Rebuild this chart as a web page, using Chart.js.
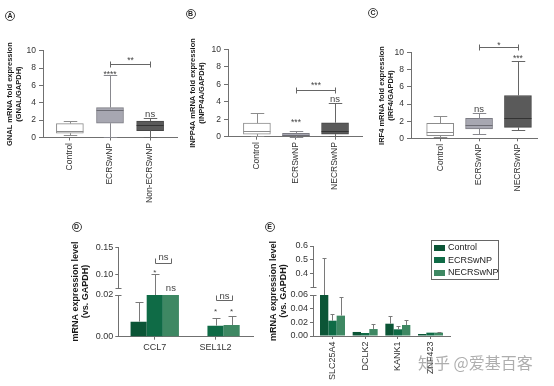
<!DOCTYPE html>
<html>
<head>
<meta charset="utf-8">
<title>mRNA expression</title>
<script src="https://cdn.jsdelivr.net/npm/chart.js@4.4.1/dist/chart.umd.min.js"></script>
<style>
  html, body { margin: 0; padding: 0; background: #fff; }
  body { position: relative; width: 554px; height: 386px; overflow: hidden; font-family: 'Liberation Sans', Arial, sans-serif; }
  canvas { position: absolute; }
  .tag { position: absolute; width: 8px; height: 8px; border: 1px solid #444; border-radius: 50%;
         font: bold 7px/8px 'Liberation Sans', Arial, sans-serif; text-align: center; color: #222; }
  #legendE { position: absolute; left: 431px; top: 240px; width: 66px; height: 37.5px; border: 1px solid #666;
             font-size: 9px; color: #222; }
  #legendE div { height: 12.5px; line-height: 12.5px; white-space: nowrap; padding-left: 2px; }
  #legendE span { display: inline-block; width: 11px; height: 6px; margin-right: 3px; vertical-align: -0.5px; }
  #mark { position: absolute; left: 418px; top: 350px; font: 16px 'Noto Sans CJK SC', sans-serif;
          color: rgba(140, 140, 140, 0.7); white-space: nowrap; }
</style>
</head>
<body>
<canvas id="chartA" width="185" height="215" style="left:0;top:0"></canvas>
<canvas id="chartB" width="190" height="215" style="left:180px;top:0"></canvas>
<canvas id="chartC" width="194" height="215" style="left:360px;top:0"></canvas>
<canvas id="chartD" width="200" height="130" style="left:60px;top:225px"></canvas>
<canvas id="chartE" width="250" height="160" style="left:262px;top:225px"></canvas>

<div class="tag" style="left:5px;top:10.5px">A</div>
<div class="tag" style="left:185.5px;top:8.5px">B</div>
<div class="tag" style="left:368px;top:8px">C</div>
<div class="tag" style="left:71.5px;top:222px">D</div>
<div class="tag" style="left:264.5px;top:222px">E</div>
<div id="legendE"></div>
<div id="mark">知乎 @爱基百客</div>

<script>
Chart.defaults.font.family = "'Liberation Sans', Arial, Helvetica, sans-serif";
Chart.defaults.color = '#333';

const AXIS = '#707070';
const INK = '#333';

// A-C: box plots (min, Q1, median, Q3, max)
const foldTicks = [0, 2, 4, 6, 8, 10];

const gnalGroups = ['Control', 'ECRSwNP', 'Non-ECRSwNP'];
const gnalMin = [0.3, 0.1, 0.1];
const gnalQ1 = [0.5, 1.65, 0.8];
const gnalMedian = [0.8, 3.15, 1.4];
const gnalQ3 = [1.6, 3.45, 1.9];
const gnalMax = [1.9, 7.15, 2.2];

const inppGroups = ['Control', 'ECRSwNP', 'NECRSwNP'];
const inppMin = [0.1, 0.02, 0.08];
const inppQ1 = [0.3, 0.08, 0.3];
const inppMedian = [0.65, 0.19, 0.6];
const inppQ3 = [1.55, 0.38, 1.6];
const inppMax = [2.75, 0.6, 3.9];

const irfGroups = ['Control', 'ECRSwNP', 'NECRSwNP'];
const irfMin = [0.1, 0.5, 0.95];
const irfQ1 = [0.32, 1.1, 1.28];
const irfMedian = [0.7, 1.5, 2.4];
const irfQ3 = [1.75, 2.33, 5.0];
const irfMax = [2.55, 3.0, 9.05];

const boxFill = ['#ffffff', '#a7a7b1', '#5a5a5a'];
const boxEdge = ['#8c8c8c', '#7c7c84', '#464646'];
const boxMedian = ['#8c8c8c', '#6c6c74', '#333333'];
const boxWhisker = ['#8c8c8c', '#88888e', '#666666'];

// D-E: bar charts on broken axes
const seriesNames = ['Control', 'ECRSwNP', 'NECRSwNP'];
const seriesColors = ['#0b5536', '#0f6b46', '#3e8863'];

const dGenes = ['CCL7', 'SEL1L2'];
const dControl = [0.0072, 0];
const dEcr = [0.02, 0.0053];
const dNecr = [0.02, 0.0056];
const dControlErr = [0.0165, null];
const dEcrErr = [0.1, 0.0092];
const dNecrErr = [null, 0.0098];
const dLowTicks = [0, 0.02];
const dHighTicks = [0.1, 0.15];

const eGenes = ['SLC25A4', 'DCLK2', 'KANK1', 'ZNF423'];
const eControl = [0.06, 0.0059, 0.018, 0.0029];
const eEcr = [0.0224, 0.0044, 0.0098, 0.0049];
const eNecr = [0.0298, 0.0102, 0.0161, 0.0049];
const eControlErr = [0.515, null, 0.0298, null];
const eEcrErr = [0.0317, null, 0.0141, null];
const eNecrErr = [0.0566, 0.0176, 0.0239, 0.0063];
const eLowTicks = [0, 0.02, 0.04, 0.06];
const eHighTicks = [0.4, 0.5, 0.6];

function crisp(v) { return Math.round(v) + 0.5; }

function drawText(ctx, text, x, yc, size, color) {
  const star = /^\*+$/.test(text);
  ctx.font = size + "px 'Liberation Sans', Arial, sans-serif";
  ctx.fillStyle = color;
  ctx.textAlign = 'center';
  ctx.textBaseline = 'alphabetic';
  ctx.fillText(text, x, yc + size * (star ? 0.58 : 0.26));
}

function barAt(chart, ds, i) {
  return chart.getDatasetMeta(ds).data[i];
}

// whiskers, caps, medians, error bars, stars and brackets
function marksPlugin(cfg) {
  return {
    id: 'marks',
    afterDatasetsDraw(chart) {
      const ctx = chart.ctx;
      ctx.save();
      ctx.lineWidth = 1;

      if (cfg.box) {
        const y = chart.scales.y;
        const b = cfg.box;
        chart.getDatasetMeta(0).data.forEach((bar, i) => {
          const x = crisp(bar.x);
          const half = bar.width / 2;
          const top = crisp(y.getPixelForValue(b.max[i]));
          const low = crisp(y.getPixelForValue(b.min[i]));
          ctx.strokeStyle = boxWhisker[i];
          ctx.beginPath();
          ctx.moveTo(x, y.getPixelForValue(b.q3[i])); ctx.lineTo(x, top);
          ctx.moveTo(x, y.getPixelForValue(b.q1[i])); ctx.lineTo(x, low);
          ctx.moveTo(x - half / 2, top); ctx.lineTo(x + half / 2, top);
          ctx.moveTo(x - half / 2, low); ctx.lineTo(x + half / 2, low);
          ctx.stroke();
          const med = crisp(y.getPixelForValue(b.median[i]));
          ctx.strokeStyle = boxMedian[i];
          ctx.beginPath();
          ctx.moveTo(bar.x - half, med); ctx.lineTo(bar.x + half, med);
          ctx.stroke();
        });
      }

      if (cfg.errors) {
        const low = chart.scales.yLow, high = chart.scales.yHigh;
        ctx.strokeStyle = '#7a7a7a';
        cfg.errors.forEach((tops, ds) => {
          chart.getDatasetMeta(ds).data.forEach((bar, i) => {
            const v = tops[i];
            if (v === null || v === undefined) return;
            const py = crisp(v > low.max ? high.getPixelForValue(v) : low.getPixelForValue(v));
            const x = crisp(bar.x);
            ctx.beginPath();
            ctx.moveTo(x, bar.y); ctx.lineTo(x, py);
            ctx.moveTo(x - cfg.cap, py); ctx.lineTo(x + cfg.cap, py);
            ctx.stroke();
          });
        });
        // break marks on the value axis
        const ax = crisp(chart.chartArea.left);
        ctx.strokeStyle = AXIS;
        ctx.beginPath();
        [high.bottom, low.top].forEach(py => {
          ctx.moveTo(ax - 3, crisp(py)); ctx.lineTo(ax + 3, crisp(py));
        });
        ctx.stroke();
      }

      (cfg.brackets || []).forEach(b => {
        const s = chart.scales[b.scale];
        const x1 = crisp(barAt(chart, b.a[0], b.a[1]).x);
        const x2 = crisp(barAt(chart, b.b[0], b.b[1]).x);
        const py = crisp(s.getPixelForValue(b.v));
        const up = b.tick === 'up' ? 5 : 3;
        const down = b.tick === 'up' ? 0 : 3;
        ctx.strokeStyle = '#666';
        ctx.beginPath();
        ctx.moveTo(x1, py); ctx.lineTo(x2, py);
        ctx.moveTo(x1, py - up); ctx.lineTo(x1, py + down);
        ctx.moveTo(x2, py - up); ctx.lineTo(x2, py + down);
        ctx.stroke();
        drawText(ctx, b.text, (x1 + x2) / 2, s.getPixelForValue(b.textV), b.size, '#444');
      });

      (cfg.notes || []).forEach(n => {
        const s = chart.scales[n.scale];
        drawText(ctx, n.text, barAt(chart, n.ds, n.i).x, s.getPixelForValue(n.v), n.size, '#444');
      });

      ctx.restore();
    }
  };
}

function boxChart(id, o) {
  return new Chart(document.getElementById(id), {
    type: 'bar',
    data: {
      datasets: [{
        data: o.groups.map((g, i) => ({x: i, y: [o.q1[i], o.q3[i]]})),
        backgroundColor: boxFill,
        borderColor: boxEdge,
        borderWidth: 1,
        borderSkipped: false,
        barThickness: 27
      }]
    },
    options: {
      responsive: false,
      animation: false,
      layout: {padding: o.pad},
      plugins: {legend: {display: false}, tooltip: {enabled: false}},
      scales: {
        x: {
          type: 'linear', min: o.xMin, max: o.xMax, offset: false,
          afterBuildTicks: s => { s.ticks = o.groups.map((g, i) => ({value: i})); },
          afterFit: s => { s.height = o.xHeight; },
          ticks: {callback: v => o.groups[v], minRotation: 90, maxRotation: 90, autoSkip: false,
                  font: {size: 8.5}, padding: 2.5, color: INK},
          grid: {drawOnChartArea: false, tickLength: 3, color: AXIS, offset: false},
          border: {color: AXIS}
        },
        y: {
          min: 0, max: 10,
          afterBuildTicks: s => { s.ticks = foldTicks.map(v => ({value: v})); },
          afterFit: s => { s.width = o.yWidth; },
          ticks: {font: {size: 8.5}, padding: 3, color: INK, autoSkip: false},
          grid: {drawOnChartArea: false, tickLength: 4, color: AXIS},
          border: {color: AXIS},
          title: {display: true, text: o.title, color: '#1a1a1a', padding: 0,
                  font: {size: 7.5, weight: 'bold', lineHeight: 1.2}}
        }
      }
    },
    plugins: [marksPlugin({
      box: {min: o.min, q1: o.q1, median: o.median, q3: o.q3, max: o.max},
      notes: o.notes,
      brackets: o.brackets
    })]
  });
}

function brokenChart(id, o) {
  const datasets = o.series.map((vals, k) => ({
    label: seriesNames[k],
    data: vals.map((v, i) => ({x: i, y: v})),
    backgroundColor: seriesColors[k],
    borderWidth: 0,
    yAxisID: 'yLow',
    barPercentage: 1,
    categoryPercentage: o.groupShare
  }));
  const valueAxis = (extra) => Object.assign({
    type: 'linear', position: 'left', stack: 'v', offset: false,
    afterFit: s => { s.width = o.yWidth; },
    grid: {drawOnChartArea: false, tickLength: 3, color: AXIS},
    border: {color: AXIS}
  }, extra);
  return new Chart(document.getElementById(id), {
    type: 'bar',
    data: {datasets},
    options: {
      responsive: false,
      animation: false,
      layout: {padding: o.pad},
      plugins: {legend: {display: false}, tooltip: {enabled: false}},
      scales: {
        x: {
          type: 'linear', min: o.xMin, max: o.xMax, offset: false,
          afterBuildTicks: s => { s.ticks = o.genes.map((g, i) => ({value: i})); },
          afterFit: s => { s.height = o.xHeight; },
          ticks: {callback: v => o.genes[v], minRotation: o.rotation, maxRotation: o.rotation, autoSkip: false,
                  font: {size: 9}, padding: 2.5, color: INK},
          grid: {drawOnChartArea: false, tickLength: 3, color: AXIS, offset: false},
          border: {color: AXIS}
        },
        yLow: valueAxis({
          min: 0, max: o.lowMax, stackWeight: o.weights[2],
          afterBuildTicks: s => { s.ticks = o.lowTicks.map(v => ({value: v})); },
          ticks: {callback: v => v.toFixed(2), font: {size: 9}, padding: 2, color: INK, autoSkip: false}
        }),
        yGap: valueAxis({
          stackWeight: o.weights[1],
          grid: {display: false}, border: {display: false}, ticks: {display: false},
          title: {display: true, text: ['mRNA expression level', '(vs. GAPDH)'], color: '#1a1a1a', padding: 0,
                  font: {size: 9, weight: 'bold', lineHeight: 1.12}}
        }),
        yHigh: valueAxis({
          min: o.highMin, max: o.highMax, stackWeight: o.weights[0],
          afterBuildTicks: s => { s.ticks = o.highTicks.map(v => ({value: v})); },
          ticks: {callback: v => v.toFixed(o.highDigits), font: {size: 9}, padding: 2, color: INK, autoSkip: false}
        })
      }
    },
    plugins: [marksPlugin({errors: o.errors, cap: o.cap, notes: o.notes, brackets: o.brackets})]
  });
}

boxChart('chartA', {
  groups: gnalGroups, min: gnalMin, q1: gnalQ1, median: gnalMedian, q3: gnalQ3, max: gnalMax,
  title: ['GNAL mRNA fold expression', '(GNAL/GAPDH)'],
  pad: {left: 5.5, top: 50.7, right: 8, bottom: 0}, yWidth: 37.5, xHeight: 77.5, xMin: -0.67, xMax: 2.67,
  notes: [{ds: 0, i: 1, scale: 'y', v: 7.5, text: '****', size: 8.5},
          {ds: 0, i: 2, scale: 'y', v: 2.6, text: 'ns', size: 9.5}],
  brackets: [{a: [0, 1], b: [0, 2], scale: 'y', v: 8.5, textV: 9.2, text: '**', size: 8.5}]
});

boxChart('chartB', {
  groups: inppGroups, min: inppMin, q1: inppQ1, median: inppMedian, q3: inppQ3, max: inppMax,
  title: ['INPP4A mRNA fold expression', '(INPP4A/GAPDH)'],
  pad: {left: 8.5, top: 49.3, right: 8, bottom: 0}, yWidth: 39.5, xHeight: 78.3, xMin: -0.74, xMax: 2.69,
  notes: [{ds: 0, i: 1, scale: 'y', v: 1.95, text: '***', size: 8.5},
          {ds: 0, i: 2, scale: 'y', v: 4.2, text: 'ns', size: 9.5}],
  brackets: [{a: [0, 1], b: [0, 2], scale: 'y', v: 5.35, textV: 6.1, text: '***', size: 8.5}]
});

boxChart('chartC', {
  groups: irfGroups, min: irfMin, q1: irfQ1, median: irfMedian, q3: irfQ3, max: irfMax,
  title: ['IRF4 mRNA fold expression', '(IRF4/GAPDH)'],
  pad: {left: 17, top: 52.7, right: 17, bottom: 0}, yWidth: 34, xHeight: 76.7, xMin: -0.75, xMax: 2.49,
  notes: [{ds: 0, i: 1, scale: 'y', v: 3.4, text: 'ns', size: 9.5},
          {ds: 0, i: 2, scale: 'y', v: 9.65, text: '***', size: 8.5}],
  brackets: [{a: [0, 1], b: [0, 2], scale: 'y', v: 10.65, textV: 11.15, text: '*', size: 8.5}]
});

brokenChart('chartD', {
  genes: dGenes, series: [dControl, dEcr, dNecr], errors: [dControlErr, dEcrErr, dNecrErr], cap: 4,
  lowMax: 0.02, highMin: 0.075, highMax: 0.15, lowTicks: dLowTicks, highTicks: dHighTicks, highDigits: 2,
  weights: [40.7, 7, 41.7], rotation: 0,
  pad: {left: 10, top: 22.3, right: 7, bottom: 0}, yWidth: 48.3, xHeight: 18.3,
  xMin: -0.6, xMax: 1.617, groupShare: 0.796,
  notes: [{ds: 1, i: 0, scale: 'yHigh', v: 0.108, text: '*', size: 8},
          {ds: 2, i: 0, scale: 'yLow', v: 0.0232, text: 'ns', size: 9.5},
          {ds: 1, i: 1, scale: 'yLow', v: 0.0131, text: '*', size: 8},
          {ds: 2, i: 1, scale: 'yLow', v: 0.0131, text: '*', size: 8}],
  brackets: [{a: [1, 0], b: [2, 0], scale: 'yHigh', v: 0.1215, textV: 0.1305, text: 'ns', size: 9.5, tick: 'up'},
             {a: [1, 1], b: [2, 1], scale: 'yLow', v: 0.0176, textV: 0.0192, text: 'ns', size: 9.5, tick: 'up'}]
});

brokenChart('chartE', {
  genes: eGenes, series: [eControl, eEcr, eNecr], errors: [eControlErr, eEcrErr, eNecrErr], cap: 2,
  lowMax: 0.06, highMin: 0.3, highMax: 0.6, lowTicks: eLowTicks, highTicks: eHighTicks, highDigits: 1,
  weights: [41, 8, 41], rotation: 90,
  pad: {left: 6.3, top: 21, right: 62, bottom: 0}, yWidth: 44.7, xHeight: 49,
  xMin: -0.596, xMax: 3.596, groupShare: 0.765,
  notes: [], brackets: []
});

// legend for panel E
document.getElementById('legendE').innerHTML = seriesNames.map((n, k) =>
  '<div><span style="background:' + seriesColors[k] + '"></span>' + n + '</div>').join('');
</script>
</body>
</html>
